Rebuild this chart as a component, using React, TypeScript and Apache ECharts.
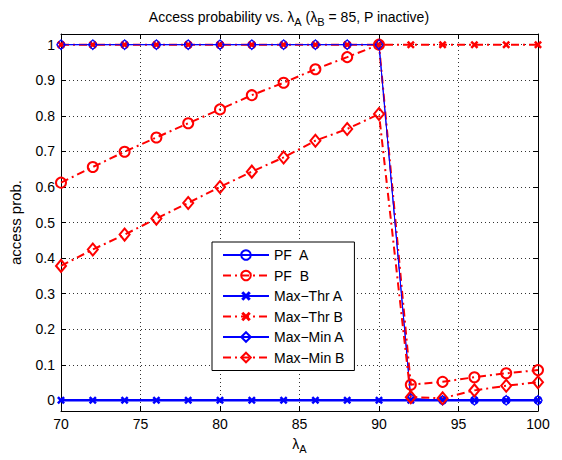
import React, { useEffect, useRef } from 'react';
import * as echarts from 'echarts';

const lambdaA = [70, 72, 74, 76, 78, 80, 82, 84, 86, 88, 90, 92, 94, 96, 98, 100];
const pfA = [1, 1, 1, 1, 1, 1, 1, 1, 1, 1, 1, 0.005, 0, 0, 0, 0];
const pfB = [0.612, 0.656, 0.699, 0.739, 0.779, 0.818, 0.858, 0.893, 0.931, 0.965, 1.0, 0.044, 0.052, 0.065, 0.076, 0.085];
const maxThrA = [0, 0, 0, 0, 0, 0, 0, 0, 0, 0, 0, 0, 0, 0, 0, 0];
const maxThrB = [1, 1, 1, 1, 1, 1, 1, 1, 1, 1, 1, 1, 1, 1, 1, 1];
const maxMinA = [1, 1, 1, 1, 1, 1, 1, 1, 1, 1, 1, 0.005, 0, 0, 0, 0];
const maxMinB = [0.378, 0.424, 0.466, 0.511, 0.555, 0.6, 0.643, 0.683, 0.73, 0.763, 0.805, 0.009, 0.006, 0.028, 0.041, 0.051];
const yTicks = [0, 0.1, 0.2, 0.3, 0.4, 0.5, 0.6, 0.7, 0.8, 0.9, 1];
const seriesNames = ['PF  A', 'PF  B', 'Max\u2212Thr A', 'Max\u2212Thr B', 'Max\u2212Min A', 'Max\u2212Min B'];

const FONT = '"Liberation Sans", Arial, Helvetica, sans-serif';
const BLUE = '#0000ff';
const RED = '#ff0000';
const XMARK = 'path://M0,2.2L2.2,0L5,2.8L7.8,0L10,2.2L7.2,5L10,7.8L7.8,10L5,7.2L2.2,10L0,7.8L2.8,5Z';
const DASHDOT = [8, 4, 2, 4];

const pairs = (ys: number[]) => lambdaA.map((x, i) => [x, ys[i]]);

export default function App() {
  const ref = useRef<HTMLDivElement>(null);
  useEffect(() => {
    if (!ref.current) return;
    const chart = echarts.init(ref.current, undefined, { renderer: 'svg' });
    const hollow = (c: string, w: number) => ({ color: 'rgba(255,255,255,0)', borderColor: c, borderWidth: w });
    const subStyle = { fontFamily: FONT, fontSize: 11, color: '#000', padding: [10, 0, 0, 0] };
    chart.setOption({
      animation: false,
      backgroundColor: '#fff',
      textStyle: { fontFamily: FONT },
      title: {
        text: 'Access probability vs. λ{s|A} (λ{s|B} = 85, P inactive)',
        left: 284,
        textAlign: 'center',
        top: 1,
        textStyle: {
          fontFamily: FONT,
          fontSize: 14,
          fontWeight: 'normal',
          color: '#000',
          rich: { s: subStyle },
        },
      },
      legend: {
        orient: 'vertical',
        left: 212,
        top: 242,
        padding: [6, 10, 6, 10],
        itemWidth: 46,
        itemHeight: 12,
        itemGap: 6.5,
        backgroundColor: '#fff',
        borderColor: '#000',
        borderWidth: 1,
        borderRadius: 0,
        textStyle: { fontFamily: FONT, fontSize: 14, color: '#000' },
        data: seriesNames,
      },
      grid: { left: 61, right: 24, top: 34, bottom: 49, containLabel: false },
      xAxis: [
        {
          type: 'value',
          min: 70,
          max: 100,
          interval: 5,
          position: 'bottom',
          name: 'λ{s|A}',
          nameLocation: 'middle',
          nameGap: 22,
          nameTextStyle: {
            fontFamily: FONT,
            fontSize: 14,
            color: '#000',
            rich: { s: { fontFamily: FONT, fontSize: 11, color: '#000', padding: [10, 0, 0, 0] } },
          },
          axisLine: { show: true, onZero: false, lineStyle: { color: '#000', width: 1 } },
          axisTick: { show: true, inside: true, length: 5, lineStyle: { color: '#000' } },
          axisLabel: { color: '#000', fontSize: 14, fontFamily: FONT, margin: 6 },
          splitLine: { show: true, lineStyle: { color: '#333', type: [1, 3], width: 1 } },
        },
        {
          type: 'value',
          min: 70,
          max: 100,
          interval: 5,
          position: 'top',
          axisLine: { show: true, onZero: false, lineStyle: { color: '#000', width: 1 } },
          axisTick: { show: true, inside: true, length: 5, lineStyle: { color: '#000' } },
          axisLabel: { show: false },
          splitLine: { show: false },
        },
      ],
      yAxis: [
        {
          type: 'value',
          min: -0.03,
          max: 1.03,
          position: 'left',
          name: 'access prob.',
          nameLocation: 'middle',
          nameGap: 38,
          nameTextStyle: { fontFamily: FONT, fontSize: 15, color: '#000' },
          axisLine: { show: true, onZero: false, lineStyle: { color: '#000', width: 1 } },
          axisTick: { show: true, inside: true, length: 5, customValues: yTicks, lineStyle: { color: '#000' } },
          axisLabel: {
            customValues: yTicks,
            color: '#000',
            fontSize: 14,
            fontFamily: FONT,
            margin: 6,
            formatter: (v: number) => String(Math.round(v * 10) / 10),
          },
          splitLine: { show: true, lineStyle: { color: '#333', type: [1, 3], width: 1 } },
        },
        {
          type: 'value',
          min: -0.03,
          max: 1.03,
          position: 'right',
          axisLine: { show: true, onZero: false, lineStyle: { color: '#000', width: 1 } },
          axisTick: { show: true, inside: true, length: 5, customValues: yTicks, lineStyle: { color: '#000' } },
          axisLabel: { show: false },
          splitLine: { show: false },
        },
      ],
      series: [
        {
          name: seriesNames[0], type: 'line', data: pairs(pfA),
          symbol: 'circle', symbolSize: 8,
          lineStyle: { color: BLUE, width: 1 }, itemStyle: hollow(BLUE, 1),
        },
        {
          name: seriesNames[1], type: 'line', data: pairs(pfB),
          symbol: 'circle', symbolSize: 10,
          lineStyle: { color: RED, width: 2, type: DASHDOT }, itemStyle: hollow(RED, 2),
        },
        {
          name: seriesNames[2], type: 'line', data: pairs(maxThrA),
          symbol: XMARK, symbolSize: 8,
          lineStyle: { color: BLUE, width: 2.5 }, itemStyle: { color: BLUE },
        },
        {
          name: seriesNames[3], type: 'line', data: pairs(maxThrB),
          symbol: XMARK, symbolSize: 8,
          lineStyle: { color: RED, width: 2, type: DASHDOT }, itemStyle: { color: RED },
        },
        {
          name: seriesNames[4], type: 'line', data: pairs(maxMinA),
          symbol: 'diamond', symbolSize: [8, 10],
          lineStyle: { color: BLUE, width: 1 }, itemStyle: hollow(BLUE, 1),
        },
        {
          name: seriesNames[5], type: 'line', data: pairs(maxMinB),
          symbol: 'diamond', symbolSize: [10, 12],
          lineStyle: { color: RED, width: 2, type: DASHDOT }, itemStyle: hollow(RED, 2),
        },
      ],
    });
    return () => chart.dispose();
  }, []);
  return <div ref={ref} style={{ width: 562, height: 460, position: 'absolute', left: 0, top: 0 }} />;
}
